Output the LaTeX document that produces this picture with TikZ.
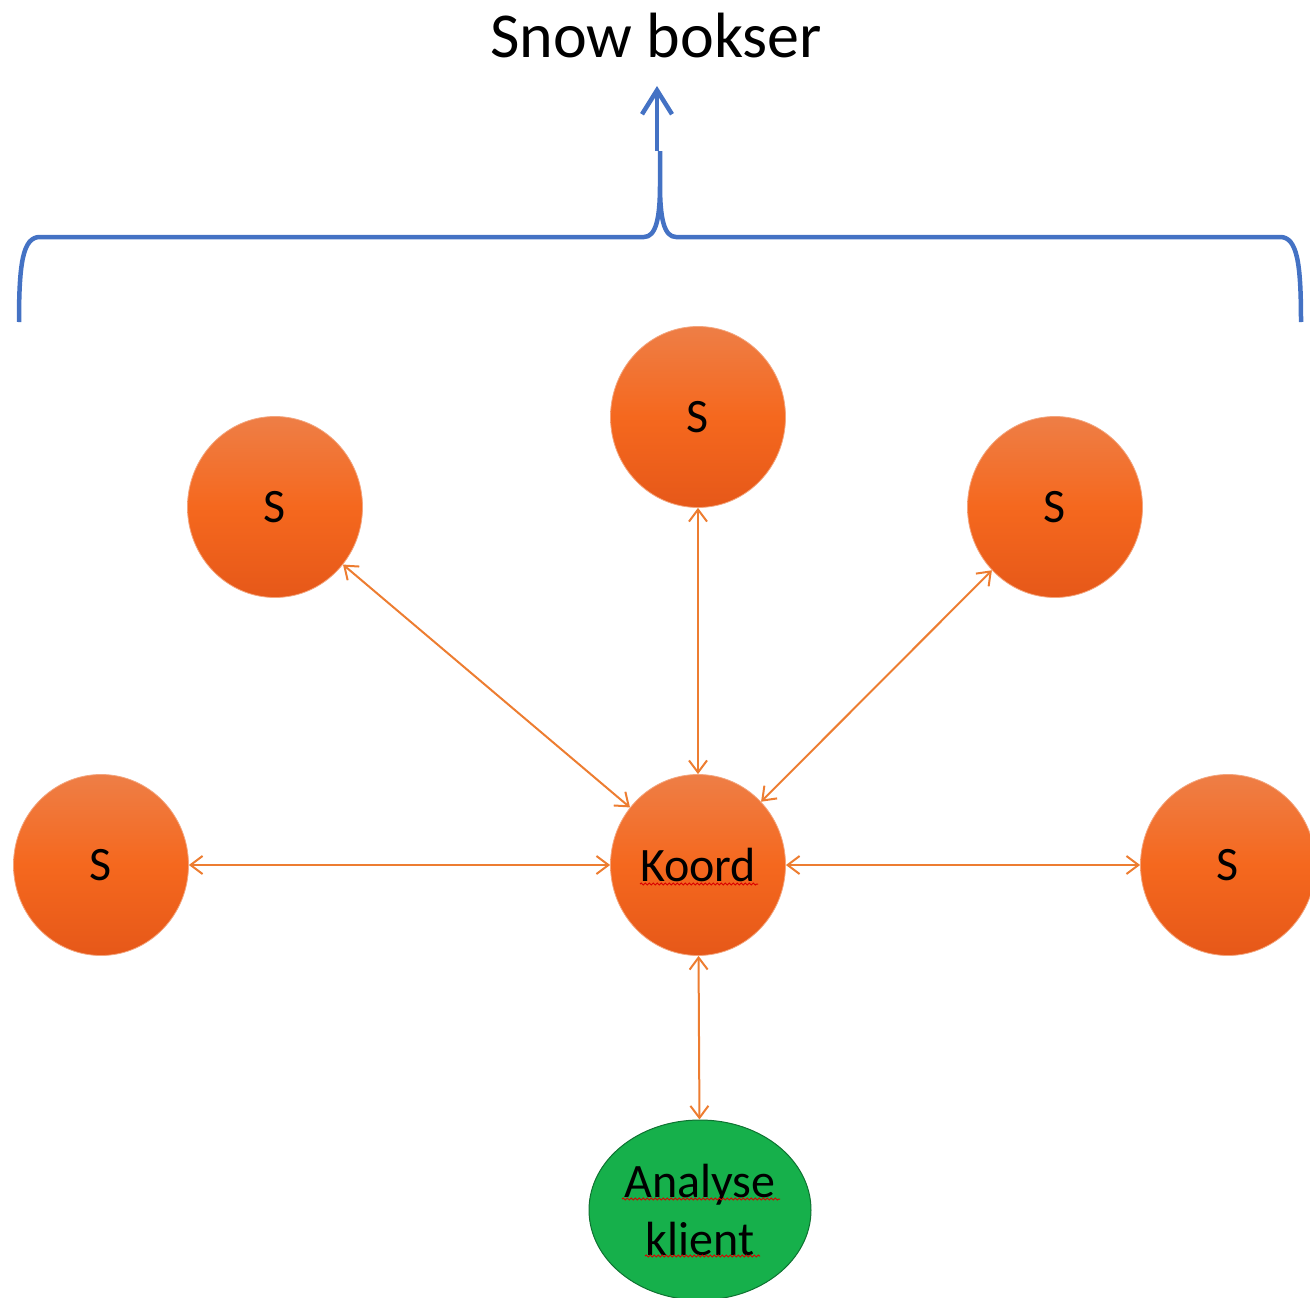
\documentclass[tikz,border=0pt]{standalone}
\usepackage{fontspec}
\setmainfont{Carlito}
\usetikzlibrary{arrows.meta,shapes.geometric,decorations.pathmorphing}

\definecolor{braceblue}{RGB}{68,114,196}
\definecolor{linkorange}{RGB}{237,125,49}
\definecolor{orangetop}{RGB}{238,126,70}
\definecolor{orangemid}{RGB}{245,104,30}
\definecolor{orangebot}{RGB}{230,88,25}
\definecolor{clientgreen}{RGB}{22,176,75}

\begin{document}
\begin{tikzpicture}[x=1pt,y=-1pt,
  ball/.style={ellipse, minimum width=175pt, minimum height=181pt, inner sep=0pt,
    top color=orangetop, bottom color=orangebot, middle color=orangemid,
    draw=orangetop!70!white, line width=0.8pt, font=\fontsize{48}{58}\selectfont},
  client/.style={ellipse, minimum width=222pt, minimum height=180pt, inner sep=0pt,
    fill=clientgreen, draw=black!35!clientgreen, line width=1pt, align=center,
    font=\fontsize{48}{58}\selectfont},
  link/.style={draw=linkorange, line width=2pt,
    {Straight Barb[length=12pt,width=18pt]}-{Straight Barb[length=12pt,width=18pt]}},
  bracket/.style={draw=braceblue, line width=4.5pt},
  pointer/.style={draw=braceblue, line width=4.5pt, -{Straight Barb[length=24pt,width=30pt]}},
  spell/.style={draw=red!85!black, line width=1pt, decorate,
    decoration={snake, segment length=4pt, amplitude=1pt}}
]
\useasboundingbox (0,0) rectangle (1310,1298);

% title and the brace spanning the snow boxes
\node[anchor=base, inner sep=0pt, font=\fontsize{64}{77}\selectfont] (title) at (656,58) {Snow bokser};
\draw[bracket] (19,322) .. controls (19,262) and (23,237) .. (40,237)
  -- (644,237) .. controls (656,237) and (660,218) .. (660,185) -- (660,151)
  (660,185) .. controls (660,218) and (664,237) .. (676,237)
  -- (1280,237) .. controls (1297,237) and (1301,262) .. (1301,322);
\coordinate (tip) at (657,151);
\coordinate (arrowtip) at (657,86);
\draw[pointer] (tip) -- (arrowtip);

% snow boxes around the coordinator
\node[ball] (st) at (698,417) {S};
\node[ball] (sl) at (275,507) {S};
\node[ball] (sr) at (1055,507) {S};
\node[ball] (wl) at (101,865) {S};
\node[ball] (k)  at (698,865) {Koord};
\node[ball] (wr) at (1228,865) {S};

% analysis client
\node[client] (ak) at (700,1210) {Analyse\\klient};

% spell-check underlines
\draw[spell] ([shift={(-58,19)}]k.center) -- ([shift={(60,19)}]k.center);
\draw[spell] ([shift={(-78,-11)}]ak.center) -- ([shift={(80,-11)}]ak.center);
\draw[spell] ([shift={(-55,46)}]ak.center) -- ([shift={(60,46)}]ak.center);

% links
\draw[link] (st) -- (k);
\draw[link] (sl) -- (k);
\draw[link] (sr) -- (k);
\draw[link] (wl) -- (k);
\draw[link] (k) -- (wr);
\draw[link] (k) -- (ak);
\end{tikzpicture}
\end{document}
